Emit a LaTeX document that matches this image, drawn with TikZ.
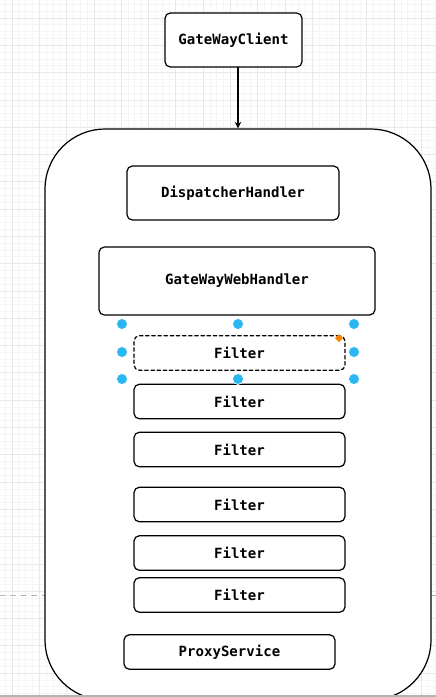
\documentclass[tikz,border=0pt]{standalone}
\usepackage{fontspec}
\newfontfamily\boxfont{DejaVu Sans Mono}
\usetikzlibrary{positioning}
\definecolor{handleblue}{RGB}{41,182,242}
\begin{document}
\begin{tikzpicture}[x=0.02cm,y=-0.02cm,line join=round,line cap=round,>=stealth,
	box/.style={draw,rounded corners=3pt,line width=0.7pt,fill=white,inner sep=0pt,
		font=\boxfont\bfseries\fontsize{8}{10}\selectfont},
	filter/.style={box,minimum width=4.22cm,minimum height=0.69cm},
	handle/.style={fill=handleblue,draw=white,line width=0.4pt}]
	\clip (0,0) rectangle (436,697);
	\useasboundingbox (0,0) rectangle (436,697);
	% grid
	\begin{scope}[shift={(12,18)}]
		\draw[gray!8,step=0.1365cm] (-20,-20) rectangle (440,700) (-20,-20) grid (440,700);
		\draw[gray!18,step=0.546cm] (-20,-20) grid (440,700);
	\end{scope}
	\draw[gray!60,dashed] (0,595) -- (436,595);
	% container
	\node[draw,line width=0.7pt,fill=white,rounded corners=1.2cm,
		minimum width=7.72cm,minimum height=11.42cm] (wall) at (238,414.5) {};
	\draw[gray!60,line width=0.8pt] (0,696) -- (436,696);
	% nodes
	\node[box,minimum width=2.74cm,minimum height=1.08cm] (client) at (233.5,40) {GateWayClient};
	\node[box,minimum width=4.24cm,minimum height=1.08cm] (dispatch) at (233,193) {DispatcherHandler};
	\node[box,minimum width=5.52cm,minimum height=1.36cm] (web) at (237,281) {GateWayWebHandler};
	\node[filter,dash pattern=on 2pt off 1.5pt] (f1) at (239.5,353) {Filter};
	\node[filter] (f2) at (239.5,401.5) {Filter};
	\node[filter] (f3) at (239.5,449.5) {Filter};
	\node[filter] (f4) at (239.5,504.5) {Filter};
	\node[filter] (f5) at (239.5,553) {Filter};
	\node[filter] (f6) at (239.5,595) {Filter};
	\node[filter] (proxy) at (229.5,652) {ProxyService};
	% arrow
	\draw[->,line width=0.7pt] (client.south -| wall.north) -- (wall.north);
	% selection handles
	\fill[handle] (122,324) circle (5.5) (238,324) circle (5.5) (354,324) circle (5.5)
		(122,352) circle (5.5) (354,352) circle (5.5)
		(122,379) circle (5.5) (238,379) circle (5.5) (354,379) circle (5.5);
	\fill[orange] (339,334) -- (343,338) -- (339,342) -- (335,338) -- cycle;
\end{tikzpicture}
\end{document}
